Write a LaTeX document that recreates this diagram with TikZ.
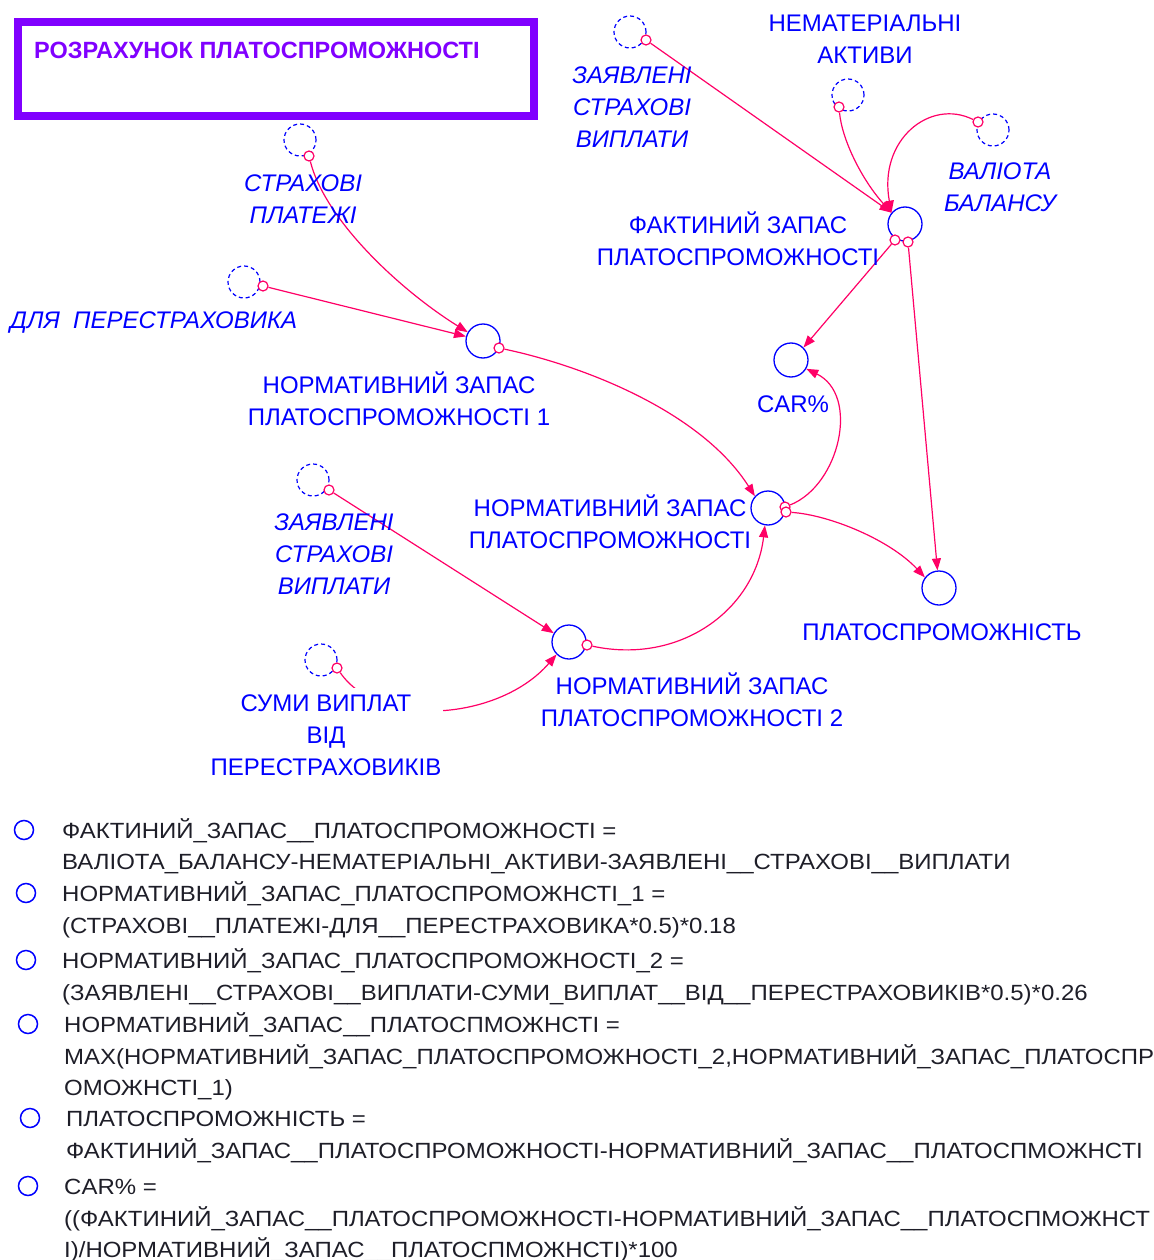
\documentclass[tikz,border=0pt]{standalone}
\usepackage{fontspec}
\setmainfont{Liberation Sans}
\newfontfamily\eqfont[FakeStretch=1.09]{Liberation Sans}
\usetikzlibrary{arrows.meta}
\definecolor{vblue}{RGB}{0,0,255}
\definecolor{vpink}{RGB}{255,0,102}
\definecolor{vpurple}{RGB}{128,0,255}
\definecolor{eqtext}{RGB}{30,30,40}
\tikzset{
  aux/.style={circle, draw=vblue, line width=1.3pt, minimum size=34pt, inner sep=0pt},
  ghost/.style={circle, draw=vblue, dash pattern=on 4pt off 3pt, line width=1.2pt, minimum size=32pt, inner sep=0pt},
  tail/.style={circle, draw=vpink, fill=white, line width=1.2pt, minimum size=10pt, inner sep=0pt},
  link/.style={draw=vpink, line width=1.2pt, -{Triangle[length=12pt,width=9pt]}},
  lbl/.style={text=vblue, font=\fontsize{24}{32}\selectfont, align=center, inner sep=0pt},
  ilbl/.style={text=vblue, font=\fontsize{24}{32}\selectfont\itshape, align=center, inner sep=0pt},
  eq/.style={text=eqtext, font=\eqfont\fontsize{22}{32}\selectfont, anchor=base west, inner sep=0pt},
  icon/.style={circle, draw=vblue, line width=1.5pt, minimum size=19pt, inner sep=0pt}
}
\begin{document}
\begin{tikzpicture}[x=1pt,y=-1pt]
\useasboundingbox (0,0) rectangle (1153,1260);
% title
\node[draw=vpurple, line width=8pt, minimum width=516pt, minimum height=94pt, inner sep=0pt] (titlebox) at (276,69) {};
\node[anchor=west, inner sep=0pt, text=vpurple, font=\fontsize{23.5}{28}\selectfont\bfseries] (title) at (34,50) {РОЗРАХУНОК ПЛАТОСПРОМОЖНОСТІ};
% main variables
\node[aux] (fz) at (905,224) {};
\node[aux] (car) at (791,360) {};
\node[aux] (nz1) at (483,341) {};
\node[aux] (nz) at (768,508) {};
\node[aux] (pl) at (939,588) {};
\node[aux] (nz2) at (569,642) {};
% ghost variables
\node[ghost] (zs1) at (630,32) {};
\node[ghost] (nm) at (848,95) {};
\node[ghost] (vb) at (993,130) {};
\node[ghost] (sp) at (300,140) {};
\node[ghost] (dp) at (244,282) {};
\node[ghost] (zs2) at (313,480) {};
\node[ghost] (sv) at (321,660) {};
% tails
\node[tail] (zs1t) at (646,40) {};
\node[tail] (nmt) at (839,107) {};
\node[tail] (vbt) at (978,122) {};
\node[tail] (spt) at (309,156) {};
\node[tail] (dpt) at (263,286) {};
\node[tail] (zs2t) at (329,490) {};
\node[tail] (svt) at (337,668) {};
\node[tail] (fzt1) at (895,240) {};
\node[tail] (fzt2) at (908,242) {};
\node[tail] (nz1t) at (499,348) {};
\node[tail] (nzt1) at (785,507) {};
\node[tail] (nzt2) at (786,512) {};
\node[tail] (nz2t) at (587,645) {};
% links
\draw[link] (zs1t) -- (fz.140);
\draw[link] (nmt) .. controls (842,140) and (862,180) .. (fz.140);
\draw[link] (vbt) .. controls (930,98) and (878,140) .. (fz.140);
\draw[link] (fzt1) -- (car.45);
\draw[link] (fzt2) -- (pl.95);
\draw[link] (spt) .. controls (325,220) and (400,290) .. (nz1.150);
\draw[link] (dpt) -- (nz1.165);
\draw[link] (nz1t) .. controls (580,365) and (700,410) .. (nz.138);
\draw[link] (nzt1) .. controls (840,485) and (860,395) .. (car.-30);
\draw[link] (nzt2) .. controls (830,515) and (890,540) .. (pl.143);
\draw[link] (zs2t) -- (nz2.150);
\draw[link] (svt) .. controls (380,730) and (500,720) .. (nz2.225);
\draw[link] (nz2t) .. controls (680,665) and (755,610) .. (nz.-100);
% labels
\node[ilbl] (zs1l) at (632,107) {ЗАЯВЛЕНІ\\СТРАХОВІ\\ВИПЛАТИ};
\node[lbl] (nml) at (865,39) {НЕМАТЕРІАЛЬНІ\\АКТИВИ};
\node[ilbl] (vbl) at (1000,187) {ВАЛІОТА\\БАЛАНСУ};
\node[lbl] (fzl) at (738,239) {ФАКТИНИЙ ЗАПАС\\ПЛАТОСПРОМОЖНОСТІ};
\node[ilbl] (spl) at (303,199) {СТРАХОВІ\\ПЛАТЕЖІ};
\node[ilbl, anchor=west] (dpl) at (10,323) {ДЛЯ\ \ ПЕРЕСТРАХОВИКА};
\node[lbl] (nz1l) at (399,399) {НОРМАТИВНИЙ ЗАПАС\\ПЛАТОСПРОМОЖНОСТІ 1};
\node[lbl] (carl) at (793,404) {CAR\%};
\node[lbl] (nzl) at (610,522) {НОРМАТИВНИЙ ЗАПАС\\ПЛАТОСПРОМОЖНОСТІ};
\node[ilbl] (zs2l) at (334,554) {ЗАЯВЛЕНІ\\СТРАХОВІ\\ВИПЛАТИ};
\node[lbl] (pll) at (942,632) {ПЛАТОСПРОМОЖНІСТЬ};
\node[lbl, fill=white, inner xsep=2pt, inner ysep=7pt] (svl) at (326,735) {СУМИ ВИПЛАТ\\ВІД\\ПЕРЕСТРАХОВИКІВ};
\node[lbl] (nz2l) at (692,700) {НОРМАТИВНИЙ ЗАПАС\\ПЛАТОСПРОМОЖНОСТІ 2};
% equations
\node[icon] (i1) at (24,830) {};
\node[eq] (e1) at (62,838) {ФАКТИНИЙ\_ЗАПАС\_\_ПЛАТОСПРОМОЖНОСТІ =};
\node[eq] (e2) at (62,869) {ВАЛІОТА\_БАЛАНСУ-НЕМАТЕРІАЛЬНІ\_АКТИВИ-ЗАЯВЛЕНІ\_\_СТРАХОВІ\_\_ВИПЛАТИ};
\node[icon] (i2) at (26,893) {};
\node[eq] (e3) at (62,901) {НОРМАТИВНИЙ\_ЗАПАС\_ПЛАТОСПРОМОЖНСТІ\_1 =};
\node[eq] (e4) at (62,933) {(СТРАХОВІ\_\_ПЛАТЕЖІ-ДЛЯ\_\_ПЕРЕСТРАХОВИКА*0.5)*0.18};
\node[icon] (i3) at (26,960) {};
\node[eq] (e5) at (62,968) {НОРМАТИВНИЙ\_ЗАПАС\_ПЛАТОСПРОМОЖНОСТІ\_2 =};
\node[eq] (e6) at (62,1000) {(ЗАЯВЛЕНІ\_\_СТРАХОВІ\_\_ВИПЛАТИ-СУМИ\_ВИПЛАТ\_\_ВІД\_\_ПЕРЕСТРАХОВИКІВ*0.5)*0.26};
\node[icon] (i4) at (28,1024) {};
\node[eq] (e7) at (64,1032) {НОРМАТИВНИЙ\_ЗАПАС\_\_ПЛАТОСПМОЖНСТІ =};
\node[eq] (e8) at (64,1064) {MAX(НОРМАТИВНИЙ\_ЗАПАС\_ПЛАТОСПРОМОЖНОСТІ\_2,НОРМАТИВНИЙ\_ЗАПАС\_ПЛАТОСПР};
\node[eq] (e9) at (64,1095) {ОМОЖНСТІ\_1)};
\node[icon] (i5) at (30,1118) {};
\node[eq] (e10) at (66,1126) {ПЛАТОСПРОМОЖНІСТЬ =};
\node[eq] (e11) at (66,1158) {ФАКТИНИЙ\_ЗАПАС\_\_ПЛАТОСПРОМОЖНОСТІ-НОРМАТИВНИЙ\_ЗАПАС\_\_ПЛАТОСПМОЖНСТІ};
\node[icon] (i6) at (28,1186) {};
\node[eq] (e12) at (64,1194) {CAR\% =};
\node[eq] (e13) at (64,1226) {((ФАКТИНИЙ\_ЗАПАС\_\_ПЛАТОСПРОМОЖНОСТІ-НОРМАТИВНИЙ\_ЗАПАС\_\_ПЛАТОСПМОЖНСТ};
\node[eq] (e14) at (64,1257) {І)/НОРМАТИВНИЙ\_ЗАПАС\_\_ПЛАТОСПМОЖНСТІ)*100};
\end{tikzpicture}
\end{document}
